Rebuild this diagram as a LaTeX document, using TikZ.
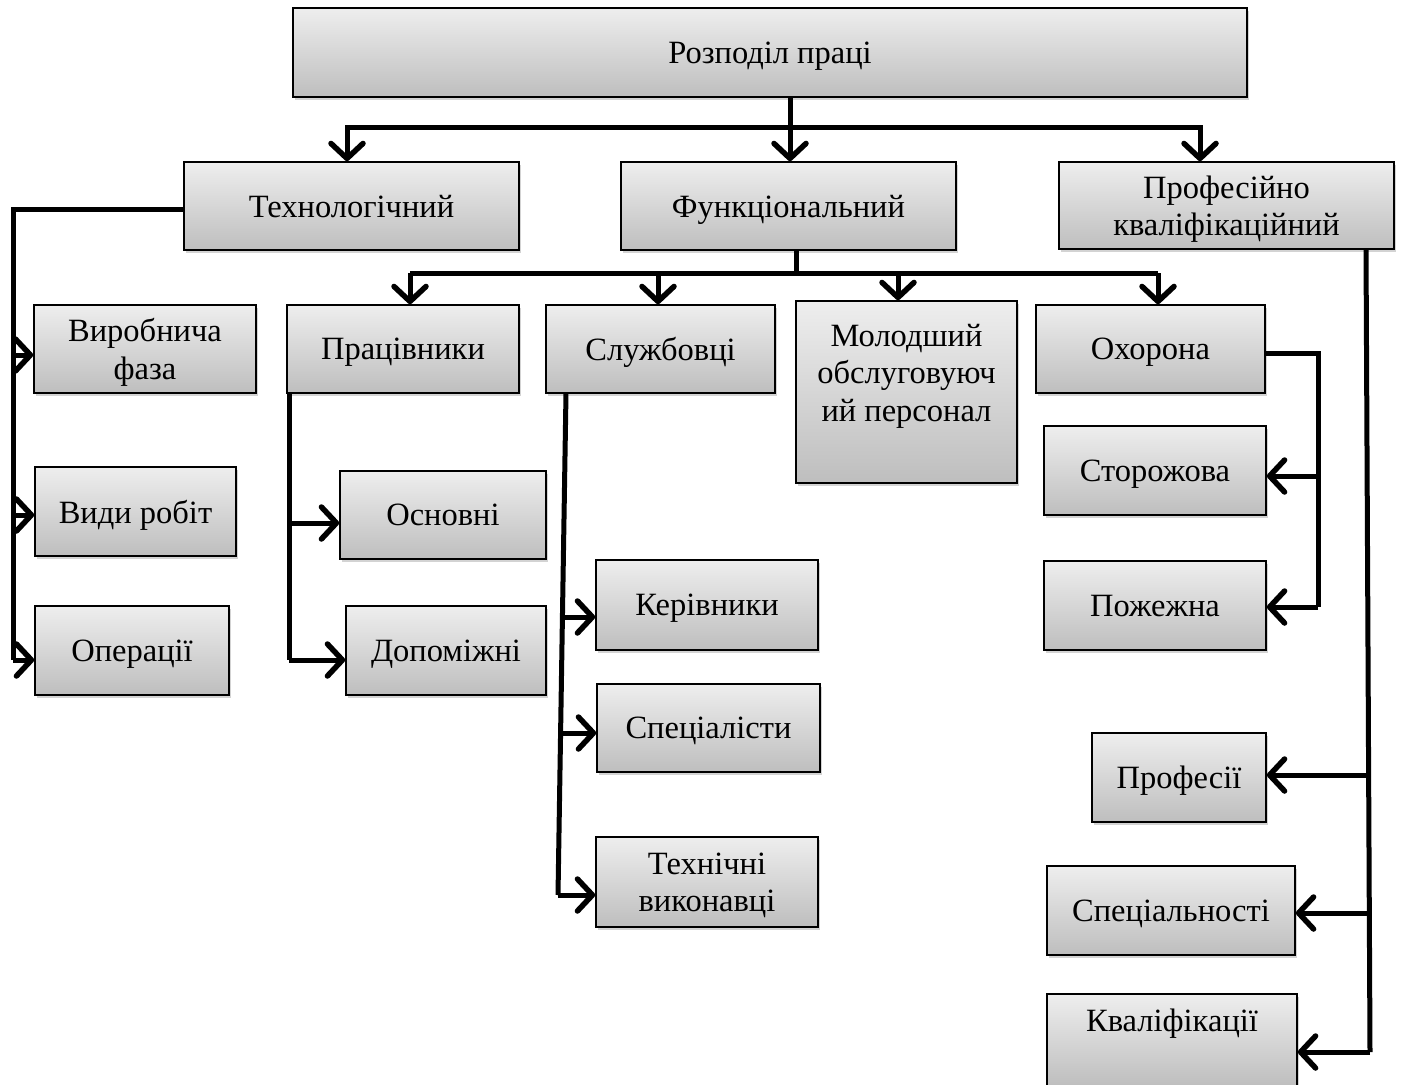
\documentclass[tikz,border=0pt]{standalone}
\usepackage{fontspec}
\setmainfont{Liberation Serif}
\usetikzlibrary{arrows.meta,shadows}
\begin{document}
\begin{tikzpicture}[x=1pt,y=-1pt,
  bx/.style={draw=black,line width=1.6pt,
    top color={rgb,255:red,238;green,238;blue,238},
    bottom color={rgb,255:red,190;green,190;blue,190},
    drop shadow={shadow xshift=2pt,shadow yshift=-3pt,opacity=0.35},
    inner sep=2pt,align=center,text depth=0pt,font=\fontsize{32.5}{37.5}\selectfont},
  txt/.style={inner sep=0pt,align=center,font=\fontsize{32.5}{37.5}\selectfont},
  ln/.style={line width=5pt,line join=miter},
  arr/.style={line width=5pt,-{Straight Barb[length=15pt,width=32pt,line width=5.5pt,round]}}]
\useasboundingbox (0,0) rectangle (1402,1084);
% boxes
\node[bx,minimum width=954pt,minimum height=89pt] (top) at (770,52.5) {Розподіл праці};
\node[bx,minimum width=335pt,minimum height=88pt] (tech) at (351.5,206) {Технологічний};
\node[bx,minimum width=335pt,minimum height=88pt] (func) at (788.5,206) {Функціональний};
\node[bx,minimum width=335pt,minimum height=87pt] (prof) at (1226.5,205.5) {Професійно\\кваліфікаційний};
\node[bx,minimum width=222pt,minimum height=88pt] (vyr) at (145,349) {Виробнича\\фаза};
\node[bx,minimum width=232pt,minimum height=88pt] (prac) at (403,349) {Працівники};
\node[bx,minimum width=229pt,minimum height=88pt] (sluzh) at (660.5,349) {Службовці};
\node[bx,minimum width=221pt,minimum height=182pt] (mol) at (906.5,392) {};
\node[txt] (molt) at (906.5,376) {Молодший\\обслуговуюч\\ий персонал};
\node[bx,minimum width=229pt,minimum height=88pt] (okh) at (1150.5,349) {Охорона};
\node[bx,minimum width=222pt,minimum height=89pt] (stor) at (1155,470.5) {Сторожова};
\node[bx,minimum width=222pt,minimum height=89pt] (pozh) at (1155,605.5) {Пожежна};
\node[bx,minimum width=201pt,minimum height=89pt] (vyd) at (135.5,511.5) {Види робіт};
\node[bx,minimum width=206pt,minimum height=88pt] (osn) at (443,515) {Основні};
\node[bx,minimum width=194pt,minimum height=89pt] (oper) at (132,650.5) {Операції};
\node[bx,minimum width=200pt,minimum height=89pt] (dop) at (446,650.5) {Допоміжні};
\node[bx,minimum width=222pt,minimum height=90pt] (ker) at (707,605) {Керівники};
\node[bx,minimum width=223pt,minimum height=88pt] (spec) at (708.5,728) {Спеціалісти};
\node[bx,minimum width=222pt,minimum height=90pt] (tekh) at (707,882) {Технічні\\виконавці};
\node[bx,minimum width=174pt,minimum height=89pt] (profes) at (1179,777.5) {Професії};
\node[bx,minimum width=248pt,minimum height=89pt] (specn) at (1171,910.5) {Спеціальності};
\node[bx,minimum width=250pt,minimum height=92pt] (kval) at (1172,1040) {};
\node[txt] (kvalt) at (1172,1024) {Кваліфікації};
% top level
\coordinate (j1) at (790,127);
\draw[arr] (top.south -| j1) -- (func.north -| j1);
\draw[arr] (j1) -| ([xshift=-4.5pt]tech.north);
\draw[arr] (j1) -| ([xshift=-26.5pt]prof.north);
% technological
\coordinate (t0) at (13,209);
\draw[ln] ([yshift=-3pt]tech.west) -- (t0) -- ([yshift=-9.5pt]oper.west -| t0);
\draw[arr] ([yshift=-6pt]vyr.west -| t0) -- ([yshift=-6pt]vyr.west);
\draw[arr] ([yshift=-3.5pt]vyd.west -| t0) -- ([yshift=-3.5pt]vyd.west);
\draw[arr] ([yshift=-9.5pt]oper.west -| t0) -- ([yshift=-9.5pt]oper.west);
% functional
\coordinate (f0) at (796,273);
\draw[ln] (func.south -| f0) -- (f0);
\draw[ln] ([xshift=7pt]prac.north |- f0) -- ([xshift=7.5pt]okh.north |- f0);
\draw[arr] ([xshift=7pt]prac.north |- f0) -- ([xshift=7pt]prac.north);
\draw[arr] ([xshift=-2.5pt]sluzh.north |- f0) -- ([xshift=-2.5pt]sluzh.north);
\draw[arr] ([xshift=-8.5pt]mol.north |- f0) -- ([xshift=-8.5pt]mol.north);
\draw[arr] ([xshift=7.5pt]okh.north |- f0) -- ([xshift=7.5pt]okh.north);
% pracivnyky
\coordinate (p0) at (289,393);
\draw[ln] (prac.south -| p0) -- ([yshift=-9.5pt]dop.west -| p0);
\draw[arr] ([yshift=-8pt]osn.west -| p0) -- ([yshift=-8pt]osn.west);
\draw[arr] ([yshift=-9.5pt]dop.west -| p0) -- ([yshift=-9.5pt]dop.west);
% sluzhbovci
\coordinate (s0) at (566,393);
\coordinate (s1) at (558,895);
\coordinate (sa) at (562.4,617);
\coordinate (sb) at (560.6,733);
\draw[ln] (s0) -- (s1);
\draw[arr] (sa) -- (ker.west |- sa);
\draw[arr] (sb) -- (spec.west |- sb);
\draw[arr] (s1) -- (tekh.west |- s1);
% okhorona
\coordinate (o0) at (1318,353);
\draw[ln] ([yshift=-4pt]okh.east) -- (o0) -- ([yshift=-1.5pt]pozh.east -| o0);
\draw[arr] ([yshift=-5.5pt]stor.east -| o0) -- ([yshift=-5.5pt]stor.east);
\draw[arr] ([yshift=-1.5pt]pozh.east -| o0) -- ([yshift=-1.5pt]pozh.east);
% profesiino
\coordinate (q0) at (1366,249);
\coordinate (q1) at (1370,1052);
\coordinate (qa) at (1368.6,775);
\coordinate (qb) at (1369.3,913);
\draw[ln] (q0) -- (q1);
\draw[arr] (qa) -- (profes.east |- qa);
\draw[arr] (qb) -- (specn.east |- qb);
\draw[arr] (q1) -- (kval.east |- q1);
\end{tikzpicture}
\end{document}
